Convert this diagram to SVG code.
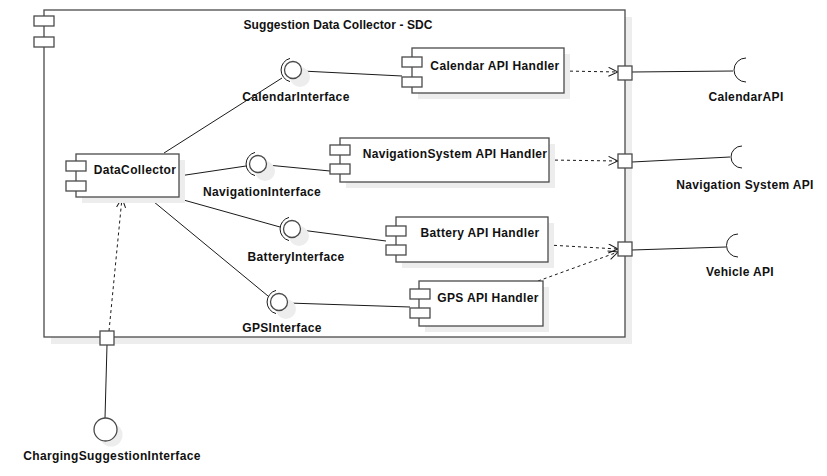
<svg xmlns="http://www.w3.org/2000/svg" width="827" height="476" viewBox="0 0 827 476">
<defs>
<style>
.sh{fill:#ededed;stroke:none}
.box{fill:#fff;stroke:#4a4a4a;stroke-width:1.3}
.ln{fill:none;stroke:#1a1a1a;stroke-width:1}
.dash{fill:none;stroke:#1a1a1a;stroke-width:1;stroke-dasharray:3,3}
.t{font-family:"Liberation Sans",Arial,sans-serif;font-size:12px;font-weight:bold;letter-spacing:0.35px;fill:#111;text-anchor:middle}
.title{letter-spacing:0.1px}
</style>
<marker id="open" markerWidth="11" markerHeight="11" refX="10" refY="5" orient="auto" markerUnits="userSpaceOnUse">
<path d="M0.5,0.5 L10,5 L0.5,9.5" fill="none" stroke="#1a1a1a" stroke-width="1"/>
</marker>
</defs>
<rect width="827" height="476" fill="#fff"/>

<g id="sdc">
<rect class="sh" x="51" y="17" width="581" height="327"/>
<rect class="box" x="44" y="10" width="581" height="327"/>
<rect class="box" x="34" y="16" width="20" height="10"/>
<rect class="box" x="34" y="37" width="20" height="10"/>
<text class="t title" x="338" y="29">Suggestion Data Collector - SDC</text>
</g>

<g id="connectors">
<line class="ln" x1="164" y1="153" x2="282" y2="78"/>
<line class="ln" x1="302" y1="71" x2="402" y2="76"/>
<line class="ln" x1="179" y1="176" x2="246" y2="166"/>
<line class="ln" x1="267" y1="165" x2="330" y2="171"/>
<line class="ln" x1="180" y1="199" x2="280" y2="227"/>
<line class="ln" x1="301" y1="230" x2="386" y2="241"/>
<line class="ln" x1="148" y1="197" x2="268" y2="296"/>
<line class="ln" x1="288" y1="303" x2="410" y2="307"/>
<line class="dash" x1="564" y1="71" x2="618" y2="72" marker-end="url(#open)"/>
<line class="dash" x1="549" y1="160" x2="618" y2="161" marker-end="url(#open)"/>
<line class="dash" x1="548" y1="245" x2="618" y2="249" marker-end="url(#open)"/>
<line class="dash" x1="538" y1="281" x2="618" y2="252" marker-end="url(#open)"/>
<line class="ln" x1="632" y1="72" x2="733" y2="71"/>
<line class="ln" x1="632" y1="162" x2="730" y2="157"/>
<line class="ln" x1="632" y1="250" x2="726" y2="247"/>
<line class="ln" x1="107" y1="345" x2="105" y2="418"/>
<line class="dash" x1="109" y1="331" x2="122" y2="198" marker-end="url(#open)"/>
</g>

<g id="calendarHandler">
<rect class="sh" x="418" y="54" width="152" height="45"/>
<rect class="box" x="412" y="48" width="152" height="45"/>
<rect class="box" x="402" y="57" width="20" height="10"/>
<rect class="box" x="402" y="77" width="20" height="10"/>
<text class="t" x="495" y="70">Calendar API Handler</text>
</g>

<g id="navHandler">
<rect class="sh" x="346" y="144" width="209" height="44"/>
<rect class="box" x="340" y="138" width="209" height="44"/>
<rect class="box" x="330" y="145" width="20" height="10"/>
<rect class="box" x="330" y="164" width="20" height="10"/>
<text class="t" x="455" y="158">NavigationSystem API Handler</text>
</g>

<g id="batteryHandler">
<rect class="sh" x="402" y="223" width="152" height="45"/>
<rect class="box" x="396" y="217" width="152" height="45"/>
<rect class="box" x="386" y="226" width="20" height="10"/>
<rect class="box" x="386" y="245" width="20" height="10"/>
<text class="t" x="480" y="237">Battery API Handler</text>
</g>

<g id="gpsHandler">
<rect class="sh" x="425" y="287" width="124" height="45"/>
<rect class="box" x="419" y="281" width="124" height="45"/>
<rect class="box" x="410" y="289" width="20" height="10"/>
<rect class="box" x="410" y="308" width="20" height="10"/>
<text class="t" x="488" y="302">GPS API Handler</text>
</g>

<g id="dataCollector">
<rect class="sh" x="82" y="160" width="103" height="43"/>
<rect class="box" x="76" y="154" width="103" height="43"/>
<rect class="box" x="66" y="161" width="20" height="10"/>
<rect class="box" x="66" y="181" width="20" height="10"/>
<text class="t" x="135" y="174">DataCollector</text>
</g>

<g id="calendarInterface">
<circle class="sh" cx="300" cy="77" r="10"/>
<circle class="box" cx="293" cy="70" r="8.5"/>
<path class="ln" d="M290,58.4 A12,12 0 0 0 290,81.6"/>
<text class="t" x="296" y="101">CalendarInterface</text>
</g>

<g id="navigationInterface">
<circle class="sh" cx="265" cy="171" r="10"/>
<circle class="box" cx="258" cy="164" r="8.5"/>
<path class="ln" d="M255,152.4 A12,12 0 0 0 255,175.6"/>
<text class="t" x="262" y="196">NavigationInterface</text>
</g>

<g id="batteryInterface">
<circle class="sh" cx="299" cy="236" r="10"/>
<circle class="box" cx="292" cy="229" r="8.5"/>
<path class="ln" d="M289,217.4 A12,12 0 0 0 289,240.6"/>
<text class="t" x="296" y="261">BatteryInterface</text>
</g>

<g id="gpsInterface">
<circle class="sh" cx="286" cy="309" r="10"/>
<circle class="box" cx="279" cy="302" r="8.5"/>
<path class="ln" d="M276,290.4 A12,12 0 0 0 276,313.6"/>
<text class="t" x="282" y="332">GPSInterface</text>
</g>

<g id="portCalendar"><rect class="box" x="618" y="66" width="14" height="14"/></g>
<g id="portNav"><rect class="box" x="618" y="154" width="14" height="14"/></g>
<g id="portVehicle"><rect class="box" x="618" y="242" width="14" height="14"/></g>
<g id="portCharging"><rect class="box" x="100" y="331" width="14" height="14"/></g>

<g id="calendarAPI">
<path class="ln" d="M746,58 A12,12 0 0 0 746,82"/>
<text class="t" x="746" y="101">CalendarAPI</text>
</g>
<g id="navigationAPI">
<path class="ln" d="M742,146 A11,11 0 0 0 742,168"/>
<text class="t" x="745" y="189">Navigation System API</text>
</g>
<g id="vehicleAPI">
<path class="ln" d="M738,234 A11.5,11.5 0 0 0 738,257"/>
<text class="t" x="740" y="276">Vehicle API</text>
</g>

<g id="chargingSuggestionInterface">
<circle class="sh" cx="111" cy="435" r="11.5"/>
<circle class="box" cx="105.5" cy="429.5" r="11.5"/>
<text class="t" x="112" y="460">ChargingSuggestionInterface</text>
</g>
</svg>
